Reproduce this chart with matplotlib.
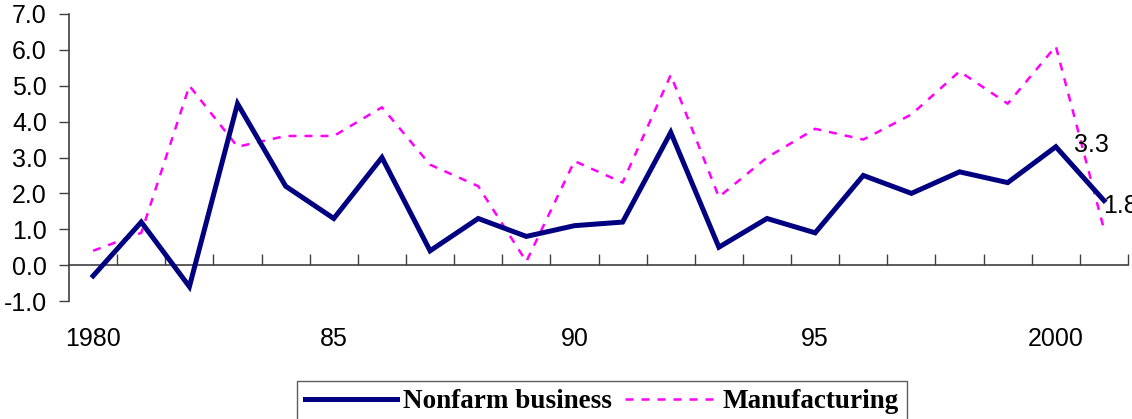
import matplotlib.pyplot as plt
import numpy as np

years = list(range(1980, 2002))
nonfarm = [-0.3, 1.2, -0.6, 4.5, 2.2, 1.3, 3.0, 0.4, 1.3, 0.8, 1.1,
           1.2, 3.7, 0.5, 1.3, 0.9, 2.5, 2.0, 2.6, 2.3, 3.3, 1.8]
manufacturing = [0.4, 0.9, 5.0, 3.3, 3.6, 3.6, 4.4, 2.8, 2.2, 0.1, 2.9,
                 2.3, 5.3, 1.9, 3.0, 3.8, 3.5, 4.2, 5.4, 4.5, 6.1, 1.0]
year_labels = {1980: '1980', 1985: '85', 1990: '90', 1995: '95', 2000: '2000'}
labelled_years = [2000, 2001]

plt.rcParams['font.family'] = ['Liberation Sans', 'DejaVu Sans']

fig = plt.figure(figsize=(11.32, 4.19), dpi=100)
ax = fig.add_axes([0.061, 0.2816, 0.9355, 0.685])

x = np.arange(len(years))
ax.plot(x, nonfarm, color='#000080', lw=3.6, solid_joinstyle='miter',
        label='Nonfarm business', zorder=3)
ax.plot(x, manufacturing, color='#ff00ff', lw=1.8, dashes=(3.2, 3.2),
        label='Manufacturing', zorder=2)

ax.set_xlim(-0.5, len(years) - 0.5)
ax.set_ylim(-1.0, 7.0)
ax.set_yticks(np.arange(-1, 8, 1))
ax.set_yticklabels([f'{v:.1f}' for v in np.arange(-1, 8, 1)], fontsize=18)
ax.tick_params(axis='y', direction='out', length=7, width=1, color='#404040', pad=9)

# category boundaries as tick marks on the zero line
ax.spines['bottom'].set_position(('data', 0))
ax.set_xticks(np.arange(0.5, len(years), 1))
ax.set_xticklabels([])
ax.tick_params(axis='x', direction='in', length=8, width=1, color='#404040')
for s in ['top', 'right']:
    ax.spines[s].set_visible(False)
for s in ['left', 'bottom']:
    ax.spines[s].set_color('#404040')
    ax.spines[s].set_linewidth(1.2)

for yr, lab in year_labels.items():
    ax.text(years.index(yr), -0.132, lab, transform=ax.get_xaxis_transform(),
            ha='center', va='center', fontsize=18)

for yr in labelled_years:
    i = years.index(yr)
    off = (13, 1) if yr == 2000 else (-0.7, -3.6)
    ax.annotate(f'{nonfarm[i]:.1f}', (i, nonfarm[i]), xytext=off,
                textcoords='offset points', ha='left', va='center', fontsize=18,
                annotation_clip=False)

leg = fig.legend(loc='upper center', bbox_to_anchor=(0.532, 0.09), ncol=2,
                 prop={'family': 'Liberation Serif', 'weight': 'bold', 'size': 19.5},
                 frameon=True, fancybox=False, edgecolor='#333333',
                 handlelength=3.4, handletextpad=0.2, columnspacing=0.5,
                 borderpad=0.3, borderaxespad=0)
leg.get_frame().set_linewidth(1.0)

fig.savefig('out.png', dpi=100)
